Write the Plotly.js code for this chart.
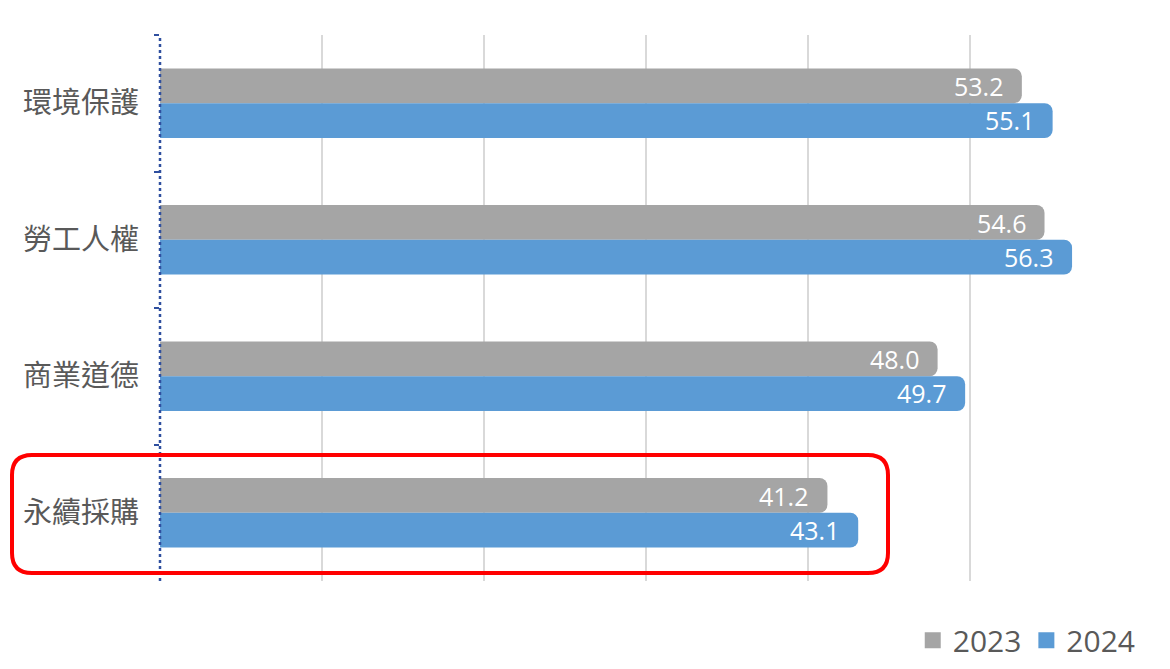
<!DOCTYPE html>
<html>
<head>
<meta charset="utf-8">
<script src="https://cdn.plot.ly/plotly-3.0.1.min.js"></script>
<style>html,body{margin:0;padding:0;background:#fff;}#chart{width:1170px;height:669px;}</style>
</head>
<body>
<div id="chart"></div>
<script>
const categories = ["環境保護", "勞工人權", "商業道德", "永續採購"];
const values2023 = [53.2, 54.6, 48.0, 41.2];
const values2024 = [55.1, 56.3, 49.7, 43.1];
const seriesNames = ["2023", "2024"];
const seriesColors = ["#a5a5a5", "#5b9bd5"];

const labelFont = {family: "Open Sans, Noto Sans, sans-serif", size: 25, color: "#ffffff"};

const traces = [
  {
    type: "bar", orientation: "h", name: seriesNames[0], showlegend: false,
    y: categories, x: values2023,
    marker: {color: seriesColors[0], cornerradius: 8},
    textposition: "none", hoverinfo: "x+name"
  },
  {
    type: "bar", orientation: "h", name: seriesNames[1], showlegend: false,
    y: categories, x: values2024,
    marker: {color: seriesColors[1], cornerradius: 8},
    textposition: "none", hoverinfo: "x+name"
  },
  {
    type: "scatter", mode: "markers", name: seriesNames[0], x: [null], y: [null],
    marker: {color: seriesColors[0], symbol: "square", size: 16}, hoverinfo: "skip"
  },
  {
    type: "scatter", mode: "markers", name: seriesNames[1], x: [null], y: [null],
    marker: {color: seriesColors[1], symbol: "square", size: 16}, hoverinfo: "skip"
  }
];

// value labels placed at each bar's end through the axes
const annotations = [];
[values2023, values2024].forEach((vals, si) => {
  vals.forEach((v, i) => {
    annotations.push({
      x: v, y: categories[i], xref: "x", yref: "y",
      text: v.toFixed(1), showarrow: false,
      xanchor: "right", yanchor: "middle",
      xshift: -17, yshift: si === 0 ? 17 : -17,
      font: labelFont
    });
  });
});

const layout = {
  width: 1170, height: 669,
  margin: {l: 160, r: 38, t: 35, b: 88},
  paper_bgcolor: "#ffffff", plot_bgcolor: "#ffffff",
  barmode: "group", bargap: 0.49, bargroupgap: 0,
  showlegend: true,
  legend: {
    orientation: "h", x: 1.009, xanchor: "right",
    yref: "container", y: 0.043, yanchor: "middle",
    font: {family: "Open Sans, Noto Sans, sans-serif", size: 30, color: "#595959"},
    itemwidth: 30, traceorder: "normal", tracegroupgap: 0
  },
  xaxis: {
    range: [0, 60], dtick: 10, showticklabels: false,
    showgrid: true, gridcolor: "#d9d9d9", gridwidth: 2,
    zeroline: false, showline: false, fixedrange: true
  },
  yaxis: {
    autorange: "reversed", categoryorder: "array", categoryarray: categories,
    tickson: "boundaries", ticks: "outside", ticklen: 5, tickwidth: 2, tickcolor: "#2f4f9f",
    tickfont: {family: "Noto Sans CJK TC, sans-serif", size: 29, color: "#595959"},
    ticklabelstandoff: 20,
    showgrid: false, zeroline: false, showline: false, fixedrange: true
  },
  annotations: annotations,
  shapes: [
    {
      type: "line", xref: "paper", yref: "paper", x0: 0, x1: 0, y0: 0, y1: 1,
      line: {color: "#2f4f9f", width: 2.5, dash: "dot"}
    },
    {
      type: "path", xref: "paper", yref: "paper",
      xsizemode: "pixel", ysizemode: "pixel", xanchor: 0, yanchor: 0,
      path: "M -128 126 L 708 126 Q 728 126 728 106 L 728 28 Q 728 8 708 8 L -128 8 Q -148 8 -148 28 L -148 106 Q -148 126 -128 126 Z",
      line: {color: "#ff0000", width: 4}, fillcolor: "rgba(0,0,0,0)"
    }
  ]
};

Plotly.newPlot("chart", traces, layout, {displayModeBar: false, staticPlot: true});
</script>
</body>
</html>
